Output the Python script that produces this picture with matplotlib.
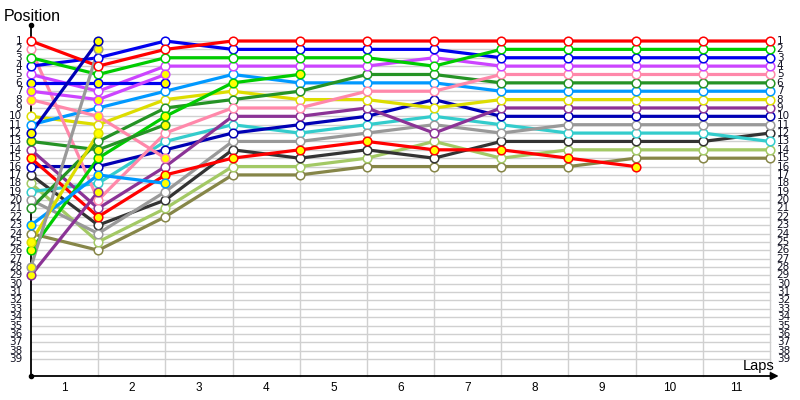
import numpy as np
import matplotlib
matplotlib.use("Agg")
import matplotlib.pyplot as plt

N = np.nan
laps = list(range(0, 12))
lap_labels = [str(i) for i in range(1, 12)]
pos_labels = [str(i) for i in range(1, 40)]

# positions per lap (lap 0 = grid); NaN = not running
red_a     = [1, 4, 2, 1, 1, 1, 1, 1, 1, 1, 1, 1]
red_b     = [15, 22, 17, 15, 14, 13, 14, 14, 15, 16, N, N]
pink_a    = [2, 20, 12, 9, 9, 7, 7, 5, 5, 5, 5, 5]
pink_b    = [8, 10, 15, N, N, N, N, N, N, N, N, N]
green_a   = [3, 5, 3, 3, 3, 3, 4, 2, 2, 2, 2, 2]
green_b   = [26, 15, 10, 6, 5, N, N, N, N, N, N, N]
blue_a    = [4, 3, 1, 2, 2, 2, 2, 3, 3, 3, 3, 3]
blue_b    = [6, 6, 6, N, N, N, N, N, N, N, N, N]
mag_a     = [5, 7, 4, 4, 4, 4, 3, 4, 4, 4, 4, 4]
mag_b     = [7, 8, 5, N, N, N, N, N, N, N, N, N]
yellow_a  = [10, 11, 8, 7, 8, 8, 9, 8, 8, 8, 8, 8]
yellow_b  = [25, 12, N, N, N, N, N, N, N, N, N, N]
sky_a     = [11, 9, 7, 5, 6, 6, 6, 7, 7, 7, 7, 7]
sky_b     = [23, 17, 18, N, N, N, N, N, N, N, N, N]
navy_a    = [16, 16, 14, 12, 11, 10, 8, 10, 10, 10, 10, 10]
navy_b    = [12, 1, N, N, N, N, N, N, N, N, N, N]
dkgreen_a = [21, 13, 9, 8, 7, 5, 5, 6, 6, 6, 6, 6]
dkgreen_b = [13, 14, 11, N, N, N, N, N, N, N, N, N]
purple_a  = [14, 21, 16, 10, 10, 9, 12, 9, 9, 9, 9, 9]
purple_b  = [29, 19, N, N, N, N, N, N, N, N, N, N]
black_a   = [17, 23, 20, 14, 15, 14, 15, 13, 13, 13, 13, 12]
ltgreen_a = [18, 25, 21, 16, 16, 15, 13, 15, 14, 14, 14, 14]
cyan_a    = [19, 18, 13, 11, 12, 11, 10, 11, 12, 12, 12, 13]
grey_a    = [20, 24, 19, 13, 13, 12, 11, 12, 11, 11, 11, 11]
grey_b    = [28, 2, N, N, N, N, N, N, N, N, N, N]
olive_a   = [24, 26, 22, 17, 17, 16, 16, 16, 16, 15, 15, 15]

# (series, line colour, marker fill)
cars = [
    (olive_a, '#868648', 'white'), (ltgreen_a, '#a3c965', 'white'),
    (black_a, '#333333', 'white'), (cyan_a, '#33cccc', 'white'),
    (grey_a, '#999999', 'white'), (navy_a, '#0000b4', 'white'),
    (purple_a, '#8b3396', 'white'), (yellow_a, '#dddd00', 'white'),
    (sky_a, '#0099ff', 'white'), (dkgreen_a, '#259325', 'white'),
    (pink_a, '#ff88aa', 'white'), (mag_a, '#cc44ff', 'white'),
    (blue_a, '#0000ee', 'white'), (green_a, '#00cc00', 'white'),
    (red_a, '#ff0000', 'white'),
    (red_b, '#ff0000', '#ffff00'), (pink_b, '#ff88aa', '#ffff00'),
    (green_b, '#00cc00', '#ffff00'), (blue_b, '#0000ee', '#ffff00'),
    (mag_b, '#cc44ff', '#ffff00'), (sky_b, '#0099ff', '#ffff00'),
    (dkgreen_b, '#259325', '#ffff00'), (purple_b, '#8b3396', '#ffff00'),
    (yellow_b, '#dddd00', '#ffff00'), (grey_b, '#999999', '#ffff00'),
    (navy_b, '#0000b4', '#ffff00'),
]

fig = plt.figure(figsize=(8, 4), dpi=100)
ax = fig.add_axes([0, 0, 1, 1])
dx, dy = 67.18, 8.37
ax.set_xlim(-31 / dx, (800 - 31) / dx)
ax.set_ylim(1 + (400 - 41) / dy, 1 - 41 / dy)
ax.axis('off')

nlaps = laps[-1]
npos = len(pos_labels)
ybot = 1 + (376 - 41) / dy
ytop = 1 + (25 - 41) / dy

# grid
for p in range(1, npos + 1):
    ax.plot([0, nlaps], [p, p], color='#d0d0d0', lw=1.0, zorder=0)
for k in range(1, nlaps + 1):
    ax.plot([k, k], [1, ybot], color='#d0d0d0', lw=1.0, zorder=0)

# axes
ax.plot([0, 0], [ytop, ybot], color='black', lw=1.3, zorder=1)
ax.plot([0, 0], [ytop, ybot], 'o', color='black', ms=3, zorder=1)
ax.annotate('', xy=(11.13, ybot), xytext=(0, ybot),
            arrowprops=dict(arrowstyle='-|>', color='black', lw=1.3,
                            mutation_scale=11, shrinkA=0, shrinkB=0))

for series, col, fill in cars:
    ax.plot(laps, series, '-', color=col, lw=2.3, zorder=2,
            solid_capstyle='round')
for series, col, fill in cars:
    ax.plot(laps, series, 'o', ms=6.2, mfc=fill, mec=col, mew=1.1,
            zorder=3, linestyle='none')

narrow = ['Liberation Sans Narrow', 'DejaVu Sans']
for i, lab in enumerate(pos_labels):
    p = i + 1
    ax.text(-0.13, p, lab, ha='right', va='center', fontsize=7.5,
            family=narrow, color='#101020')
    ax.text(nlaps + 0.1, p, lab, ha='left', va='center', fontsize=7.5,
            family=narrow, color='#101020')
for i, lab in enumerate(lap_labels):
    ax.text(i + 0.5, 1 + (388 - 41) / dy, lab, ha='center', va='center',
            fontsize=8.5, family=['Liberation Sans', 'DejaVu Sans'])

ax.text(-27 / dx, 1 + (21 - 41) / dy, 'Position', ha='left', va='baseline',
        fontsize=11.5, family=['Liberation Sans', 'DejaVu Sans'])
ax.text((775 - 31) / dx, 1 + (370 - 41) / dy, 'Laps', ha='right',
        va='baseline', fontsize=10.5, family=['Liberation Sans', 'DejaVu Sans'])

fig.savefig('out.png', dpi=100)
